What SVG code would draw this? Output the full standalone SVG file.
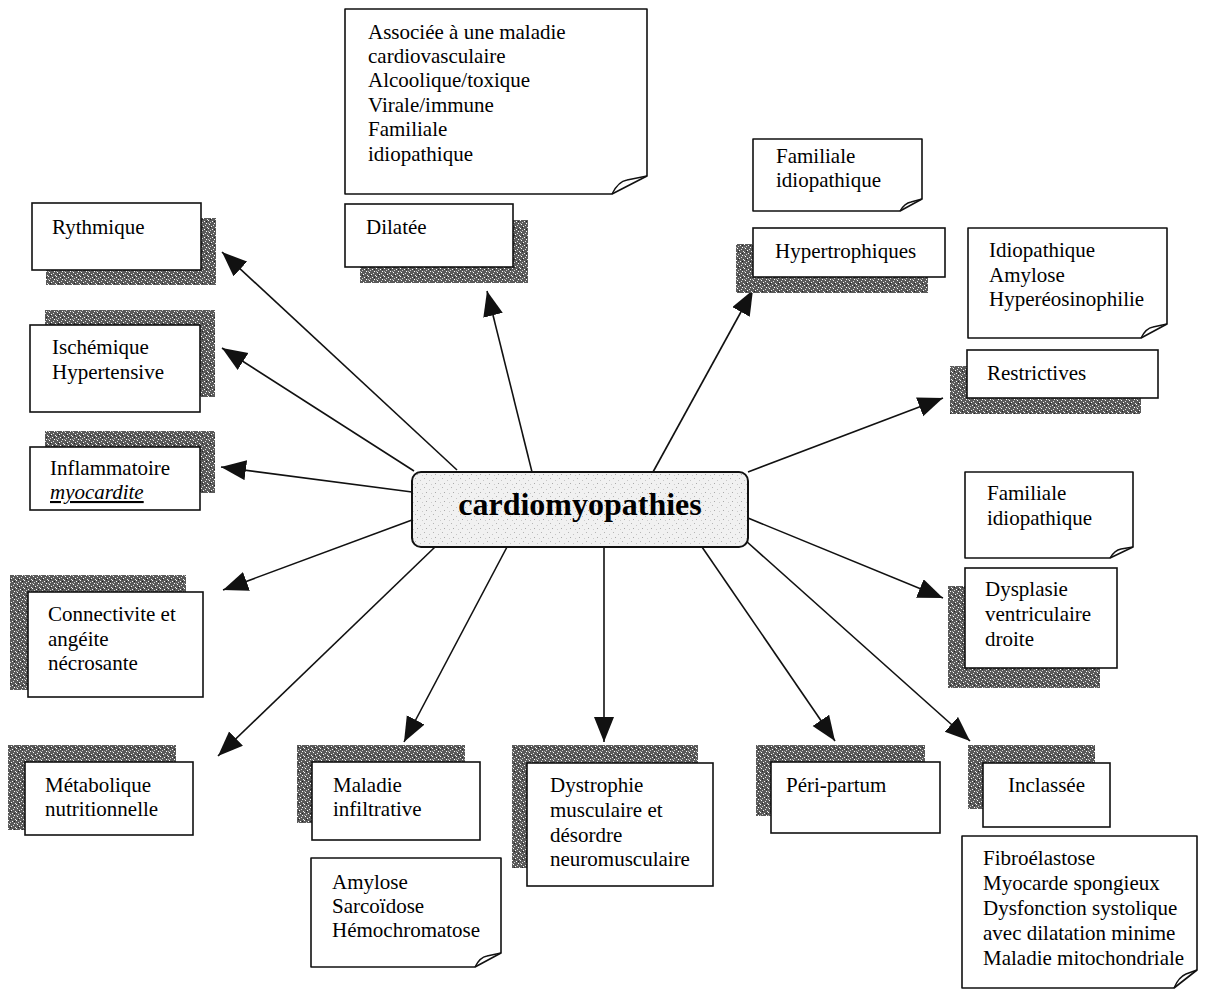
<svg xmlns="http://www.w3.org/2000/svg" width="1213" height="991" viewBox="0 0 1213 991">
<defs>
<style>
.t{font-family:"Liberation Serif","Times New Roman",serif;font-size:21px;fill:#000}
.box{fill:#fff;stroke:#111;stroke-width:1.6}
.sh{fill:url(#dark);stroke:none}
.note{fill:#fff;stroke:#111;stroke-width:1.6;stroke-linejoin:round}
.fold{fill:none;stroke:#111;stroke-width:1.4}
.con{stroke:#111;stroke-width:1.6;fill:none;marker-end:url(#ah)}
</style>
<pattern id="dark" width="8" height="8" patternUnits="userSpaceOnUse">
<rect width="8" height="8" fill="#5a5a5a"/>
<rect x="1" y="0" width="1" height="1" fill="#fff"/>
<rect x="5" y="1" width="1" height="1" fill="#ddd"/>
<rect x="3" y="2" width="1" height="1" fill="#fff"/>
<rect x="7" y="3" width="1" height="1" fill="#eee"/>
<rect x="0" y="4" width="1" height="1" fill="#fff"/>
<rect x="4" y="5" width="1" height="1" fill="#fff"/>
<rect x="2" y="6" width="1" height="1" fill="#ccc"/>
<rect x="6" y="7" width="1" height="1" fill="#fff"/>
<rect x="6" y="5" width="1" height="1" fill="#222"/>
<rect x="2" y="3" width="1" height="1" fill="#222"/>
<rect x="0" y="7" width="1" height="1" fill="#aaa"/>
</pattern>
<pattern id="light" width="9" height="9" patternUnits="userSpaceOnUse">
<rect width="9" height="9" fill="#f1f1f1"/>
<rect x="1" y="1" width="1" height="1" fill="#b5b5b5"/>
<rect x="6" y="3" width="1" height="1" fill="#c5c5c5"/>
<rect x="3" y="6" width="1" height="1" fill="#aaa"/>
<rect x="8" y="7" width="1" height="1" fill="#ccc"/>
</pattern>
<marker id="ah" markerUnits="userSpaceOnUse" markerWidth="27" markerHeight="21" refX="25" refY="10" orient="auto">
<path d="M0,0 L25,10 L0,20 Z" fill="#111"/>
</marker>
</defs>

<g id="connectors">
<line class="con" x1="457" y1="470" x2="222" y2="252"/>
<line class="con" x1="414" y1="471" x2="222" y2="348"/>
<line class="con" x1="412" y1="492" x2="221" y2="467"/>
<line class="con" x1="412" y1="520" x2="223" y2="590"/>
<line class="con" x1="435" y1="547" x2="218" y2="756"/>
<line class="con" x1="507" y1="547" x2="404" y2="742"/>
<line class="con" x1="604" y1="547" x2="604" y2="742"/>
<line class="con" x1="702" y1="547" x2="835" y2="741"/>
<line class="con" x1="746" y1="541" x2="970" y2="741"/>
<line class="con" x1="748" y1="518" x2="943" y2="598"/>
<line class="con" x1="748" y1="472" x2="943" y2="398"/>
<line class="con" x1="653" y1="472" x2="753" y2="290"/>
<line class="con" x1="532" y1="472" x2="487" y2="291"/>
</g>

<g id="center">
<rect x="412" y="472" width="336" height="75" rx="9" fill="url(#light)" stroke="#111" stroke-width="2"/>
<text x="580" y="515" text-anchor="middle" style="font-family:'Liberation Serif','Times New Roman',serif;font-size:32px;font-weight:bold;fill:#000">cardiomyopathies</text>
</g>

<g id="n-dilatee-note">
<path class="note" d="M345,9 H647 V176 L612,194 H345 Z"/>
<path class="fold" d="M612,194 C616,186 620,181 627,180 L647,176"/>
<text class="t" x="368" y="39">Associée à une maladie</text>
<text class="t" x="368" y="63">cardiovasculaire</text>
<text class="t" x="368" y="87">Alcoolique/toxique</text>
<text class="t" x="368" y="112">Virale/immune</text>
<text class="t" x="368" y="136">Familiale</text>
<text class="t" x="368" y="161">idiopathique</text>
</g>

<g id="n-dilatee">
<rect class="sh" x="360" y="220" width="168" height="63"/>
<rect class="box" x="345" y="204" width="168" height="63"/>
<text class="t" x="366" y="234">Dilatée</text>
</g>

<g id="n-rythmique">
<rect class="sh" x="46" y="218" width="170" height="67"/>
<rect class="box" x="32" y="203" width="169" height="67"/>
<text class="t" x="52" y="234">Rythmique</text>
</g>

<g id="n-ischemique">
<rect class="sh" x="45" y="310" width="170" height="87"/>
<rect class="box" x="30" y="325" width="170" height="87"/>
<text class="t" x="52" y="354">Ischémique</text>
<text class="t" x="52" y="379">Hypertensive</text>
</g>

<g id="n-inflammatoire">
<rect class="sh" x="45" y="431" width="170" height="62"/>
<rect class="box" x="30" y="447" width="170" height="63"/>
<text class="t" x="50" y="475">Inflammatoire</text>
<text class="t" x="50" y="499" font-style="italic" text-decoration="underline">myocardite</text>
</g>

<g id="n-connectivite">
<rect class="sh" x="10" y="575" width="176" height="115"/>
<rect class="box" x="28" y="592" width="175" height="105"/>
<text class="t" x="48" y="621">Connectivite et</text>
<text class="t" x="48" y="646">angéite</text>
<text class="t" x="48" y="670">nécrosante</text>
</g>

<g id="n-metabolique">
<rect class="sh" x="8" y="745" width="168" height="85"/>
<rect class="box" x="25" y="762" width="168" height="73"/>
<text class="t" x="45" y="792">Métabolique</text>
<text class="t" x="45" y="816">nutritionnelle</text>
</g>

<g id="n-maladie">
<rect class="sh" x="297" y="745" width="168" height="78"/>
<rect class="box" x="312" y="762" width="168" height="78"/>
<text class="t" x="333" y="792">Maladie</text>
<text class="t" x="333" y="816">infiltrative</text>
</g>

<g id="n-maladie-note">
<path class="note" d="M311,858 H501 V953 L475,967 H311 Z"/>
<path class="fold" d="M475,967 C478,961 481,957 487,956 L501,953"/>
<text class="t" x="332" y="889">Amylose</text>
<text class="t" x="332" y="913">Sarcoïdose</text>
<text class="t" x="332" y="937">Hémochromatose</text>
</g>

<g id="n-dystrophie">
<rect class="sh" x="512" y="745" width="186" height="123"/>
<rect class="box" x="527" y="763" width="186" height="123"/>
<text class="t" x="550" y="792">Dystrophie</text>
<text class="t" x="550" y="817">musculaire et</text>
<text class="t" x="550" y="842">désordre</text>
<text class="t" x="550" y="866">neuromusculaire</text>
</g>

<g id="n-peripartum">
<rect class="sh" x="756" y="745" width="169" height="71"/>
<rect class="box" x="771" y="762" width="169" height="71"/>
<text class="t" x="786" y="792">Péri-partum</text>
</g>

<g id="n-inclassee">
<rect class="sh" x="968" y="745" width="127" height="64"/>
<rect class="box" x="983" y="763" width="127" height="64"/>
<text class="t" x="1008" y="792">Inclassée</text>
</g>

<g id="n-inclassee-note">
<path class="note" d="M962,836 H1197 V970 L1174,988 H962 Z"/>
<path class="fold" d="M1174,988 C1177,981 1181,976 1186,974 L1197,970"/>
<text class="t" x="983" y="865">Fibroélastose</text>
<text class="t" x="983" y="890">Myocarde spongieux</text>
<text class="t" x="983" y="915">Dysfonction systolique</text>
<text class="t" x="983" y="940">avec dilatation minime</text>
<text class="t" x="983" y="965">Maladie mitochondriale</text>
</g>

<g id="n-dysplasie">
<rect class="sh" x="948" y="586" width="152" height="102"/>
<rect class="box" x="965" y="568" width="152" height="100"/>
<text class="t" x="985" y="596">Dysplasie</text>
<text class="t" x="985" y="621">ventriculaire</text>
<text class="t" x="985" y="646">droite</text>
</g>

<g id="n-dysplasie-note">
<path class="note" d="M965,472 H1133 V547 L1110,558 H965 Z"/>
<path class="fold" d="M1110,558 C1113,553 1116,550 1121,549 L1133,547"/>
<text class="t" x="987" y="500">Familiale</text>
<text class="t" x="987" y="525">idiopathique</text>
</g>

<g id="n-restrictives">
<rect class="sh" x="950" y="366" width="191" height="48"/>
<rect class="box" x="967" y="350" width="191" height="48"/>
<text class="t" x="987" y="380">Restrictives</text>
</g>

<g id="n-restrictives-note">
<path class="note" d="M968,228 H1167 V324 L1141,338 H968 Z"/>
<path class="fold" d="M1141,338 C1144,332 1147,328 1153,327 L1167,324"/>
<text class="t" x="989" y="257">Idiopathique</text>
<text class="t" x="989" y="282">Amylose</text>
<text class="t" x="989" y="306">Hyperéosinophilie</text>
</g>

<g id="n-hypertrophiques">
<rect class="sh" x="736" y="244" width="192" height="49"/>
<rect class="box" x="753" y="228" width="192" height="49"/>
<text class="t" x="775" y="258">Hypertrophiques</text>
</g>

<g id="n-hypertrophiques-note">
<path class="note" d="M753,139 H922 V199 L900,211 H753 Z"/>
<path class="fold" d="M900,211 C903,206 906,203 911,202 L922,199"/>
<text class="t" x="776" y="163">Familiale</text>
<text class="t" x="776" y="187">idiopathique</text>
</g>
</svg>
